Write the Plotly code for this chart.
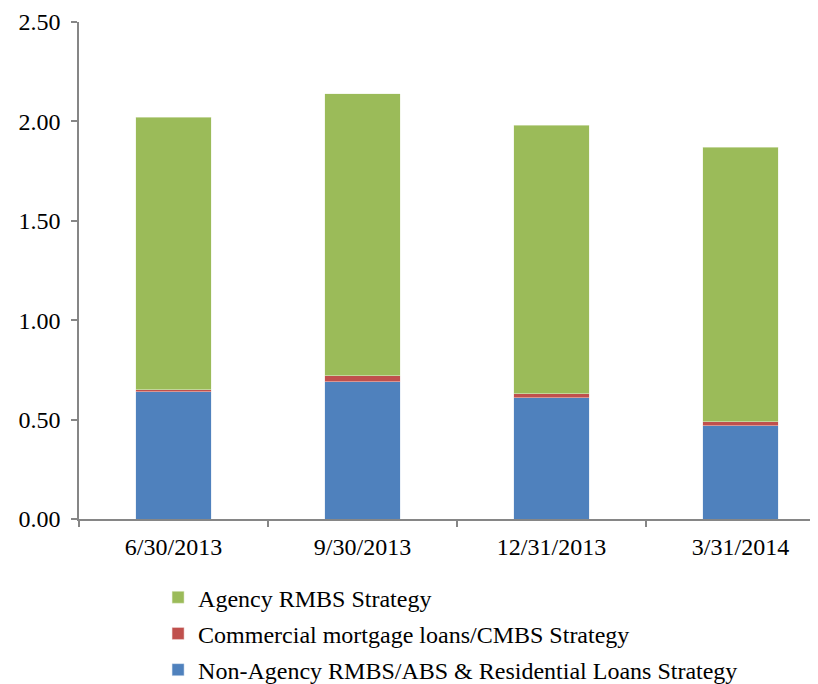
import plotly.graph_objects as go

categories = ["6/30/2013", "9/30/2013", "12/31/2013", "3/31/2014"]
non_agency = [0.64, 0.69, 0.61, 0.47]
commercial = [0.01, 0.03, 0.02, 0.02]
agency = [1.37, 1.42, 1.35, 1.38]
y_ticks = [0, 0.5, 1.0, 1.5, 2.0, 2.5]

font_family = "Liberation Serif, Times New Roman, serif"

fig = go.Figure()
fig.add_trace(go.Bar(x=categories, y=non_agency, name="Non-Agency RMBS/ABS & Residential Loans Strategy",
                     marker=dict(color="#4F81BD", line=dict(color="#dbe5f1", width=0.5)), width=0.4,
                     legendgroup="a", legendrank=3))
fig.add_trace(go.Bar(x=categories, y=commercial, name="Commercial mortgage loans/CMBS Strategy",
                     marker=dict(color="#C0504D", line=dict(color="#f2dcdb", width=0.5)), width=0.4,
                     legendgroup="b", legendrank=2))
fig.add_trace(go.Bar(x=categories, y=agency, name="Agency RMBS Strategy",
                     marker=dict(color="#9BBB59", line=dict(color="#ebf1de", width=0.5)), width=0.4,
                     legendgroup="c", legendrank=1))

fig.update_layout(
    barmode="stack",
    width=810, height=676,
    margin=dict(l=71, r=0, t=14, b=165, autoexpand=False),
    paper_bgcolor="white", plot_bgcolor="white",
    font=dict(family=font_family, size=24, color="black"),
    showlegend=True,
    legend=dict(orientation="v", traceorder="grouped", tracegroupgap=2,
                x=0.107, xanchor="left", y=-0.113, yanchor="top",
                font=dict(family=font_family, size=24, color="black"),
                itemwidth=30),
    xaxis=dict(type="category", range=[-0.5, 3.41], showline=True, linecolor="#868686", linewidth=1.5,
               ticks="outside", tickson="boundaries", ticklen=6, tickcolor="#868686", tickwidth=1.5,
               showgrid=False, tickfont=dict(size=24), ticklabelstandoff=5),
    yaxis=dict(range=[0, 2.5], tickvals=y_ticks, tickformat=".2f", showline=True, linecolor="#868686",
               linewidth=1.5, ticks="outside", ticklen=6, tickcolor="#868686", tickwidth=1.5,
               showgrid=False, zeroline=False, tickfont=dict(size=24), ticklabelstandoff=6),
)

fig.write_html("out.html")
